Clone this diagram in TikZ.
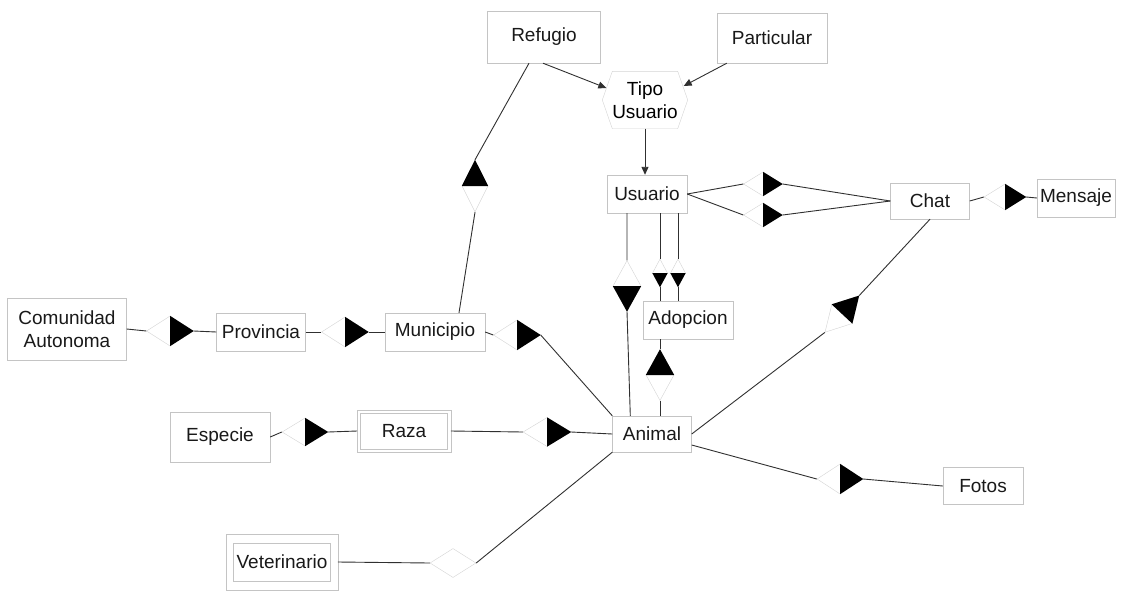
\documentclass[tikz,border=0pt]{standalone}
\usepackage{fontspec}
\setmainfont{Liberation Sans}
\usetikzlibrary{arrows.meta, shapes.geometric, fit}
\definecolor{boxgray}{HTML}{C4C4C4}
\definecolor{diagray}{HTML}{D4D4D4}
\definecolor{linegray}{HTML}{303030}

% relationship diamond, black half points to the given angle
\newcommand{\relnode}[4][]{%
  \node[rel, rotate=#4, #1] (#2) at (#3) {};
  \fill[black] (#2.north) -- (#2.east) -- (#2.south) -- cycle;
}

\begin{document}
\begin{tikzpicture}[
    x=1pt, y=-1pt,
    font=\fontsize{19}{23}\selectfont,
    entity/.style={draw=boxgray, fill=white, align=center, inner xsep=2pt, inner ysep=3pt, minimum height=37pt, text=black!90},
    rel/.style={shape=diamond, draw=diagray, fill=white, inner sep=0pt, minimum width=46pt, minimum height=28pt},
    link/.style={draw=linegray, line width=0.9pt},
    arrow/.style={link, -{Triangle[length=8pt, width=7pt]}}
]
\fill[white] (0,0) rectangle (1121,592);
\useasboundingbox (0,0) rectangle (1121,592);

% entities
\node[entity, minimum width=113, minimum height=52] (refugio) at (544,37) {Refugio};
\node[entity, minimum width=110, minimum height=50] (particular) at (772,38) {Particular};
\node[align=center, inner sep=0pt, minimum width=85, minimum height=57] (tipo) at (645,100) {Tipo\\Usuario};
\draw[diagray] (tipo.west) -- ([xshift=10pt]tipo.north west) -- ([xshift=-10pt]tipo.north east) -- (tipo.east)
    -- ([xshift=-10pt]tipo.south east) -- ([xshift=10pt]tipo.south west) -- cycle;
\node[entity, minimum width=80, minimum height=38] (usuario) at (647,194) {Usuario};
\node[entity, minimum width=79, minimum height=36] (chat) at (930,201) {Chat};
\node[entity, minimum width=78, minimum height=38] (mensaje) at (1076,198) {Mensaje};
\node[entity, minimum width=90, minimum height=38] (adopcion) at (688,320) {Adopcion};
\node[entity, minimum width=79, minimum height=36] (animal) at (652,434) {Animal};
\node[entity, minimum width=119, minimum height=62] (comunidad) at (67,329) {Comunidad\\Autonoma};
\node[entity, minimum width=89, minimum height=38] (provincia) at (261,332) {Provincia};
\node[entity, minimum width=100, minimum height=38] (municipio) at (435,332) {Municipio};
\node[entity, minimum width=100, minimum height=50] (especie) at (220,437) {Especie};
\node[entity, minimum width=87, minimum height=36] (raza) at (404,431) {Raza};
\node[draw=boxgray, fit=(raza), inner sep=3pt] (razabox) {};
\node[entity, minimum width=97, minimum height=38] (veterinario) at (282,562) {Veterinario};
\node[draw=boxgray, fit=(veterinario), inner xsep=7pt, inner ysep=9pt] (vetbox) {};
\node[entity, minimum width=80, minimum height=37] (fotos) at (983,486) {Fotos};

% relationships
\relnode[minimum width=47pt, minimum height=30pt]{rCP}{170,331}{0}
\relnode[minimum width=47pt, minimum height=30pt]{rPM}{345,332}{0}
\relnode[minimum width=47pt, minimum height=30pt]{rMA}{517,335}{0}
\relnode[minimum width=52pt, minimum height=26pt]{rRM}{475,186}{90}
\relnode[minimum width=51pt, minimum height=28pt]{rUA}{627,286}{-90}
\relnode[minimum width=28pt, minimum height=15pt]{rUAa}{660,273}{-90}
\relnode[minimum width=28pt, minimum height=15pt]{rUAb}{678,273}{-90}
\relnode[minimum width=51pt, minimum height=28pt]{rAdA}{660,375}{90}
\relnode[minimum width=39pt, minimum height=24pt]{rUCa}{763,184}{0}
\relnode[minimum width=39pt, minimum height=24pt]{rUCb}{763,215}{0}
\relnode[minimum width=42pt, minimum height=26pt]{rCM}{1005,197}{0}
\relnode[minimum width=50pt, minimum height=28pt]{rCA}{842,314}{47}
\relnode[minimum width=46pt, minimum height=30pt]{rAF}{840,479}{0}
\relnode[minimum width=48pt, minimum height=29pt]{rRA}{547,432}{0}
\relnode{rER}{305,432}{0}
\node[rel, minimum height=29pt] (rVA) at (453,563) {};

% arrows to Tipo Usuario
\draw[arrow] ([xshift=-1pt]refugio.south) -- ([shift={(4,-12)}]tipo.west);
\draw[arrow] ([xshift=10pt]particular.south west) -- ([shift={(-4,-14)}]tipo.east);
\draw[arrow] (tipo.south) -- (tipo.south |- usuario.north);

% links
\draw[link] (comunidad.east) -- (rCP.west) (rCP.east) -- (provincia.west);
\draw[link] (provincia.east) -- (rPM.west) (rPM.east) -- (municipio.west);
\draw[link] (municipio.east) -- (rMA.west) (rMA.east) -- (animal.north west);
\draw[link] ([xshift=-15pt]refugio.south) -- (rRM.east) (rRM.west) -- ([xshift=24pt]municipio.north);
\draw[link] (usuario.south -| rUA.west) -- (rUA.west) (rUA.east) -- ([xshift=18pt]animal.north west);
\draw[link] (usuario.south -| rUAa.west) -- (rUAa.west) (rUAa.east) -- (adopcion.north -| rUAa.east);
\draw[link] (usuario.south -| rUAb.west) -- (rUAb.west) (rUAb.east) -- (adopcion.north -| rUAb.east);
\draw[link] (adopcion.south -| rAdA.east) -- (rAdA.east) (rAdA.west) -- (animal.north -| rAdA.west);
\draw[link] (usuario.east) -- (rUCa.west) (rUCa.east) -- (chat.west);
\draw[link] (usuario.east) -- (rUCb.west) (rUCb.east) -- (chat.west);
\draw[link] (chat.east) -- (rCM.west) (rCM.east) -- (mensaje.west);
\draw[link] (chat.south) -- (rCA.east) (rCA.west) -- (animal.east);
\draw[link] ([yshift=-11pt]animal.east) -- (rAF.west) (rAF.east) -- (fotos.west);
\draw[link] (razabox.east) -- (rRA.west) (rRA.east) -- (animal.west);
\draw[link] (especie.east) -- (rER.west) (rER.east) -- (razabox.west);
\draw[link] (vetbox.east) -- (rVA.west) (rVA.east) -- (animal.south west);
\end{tikzpicture}
\end{document}
